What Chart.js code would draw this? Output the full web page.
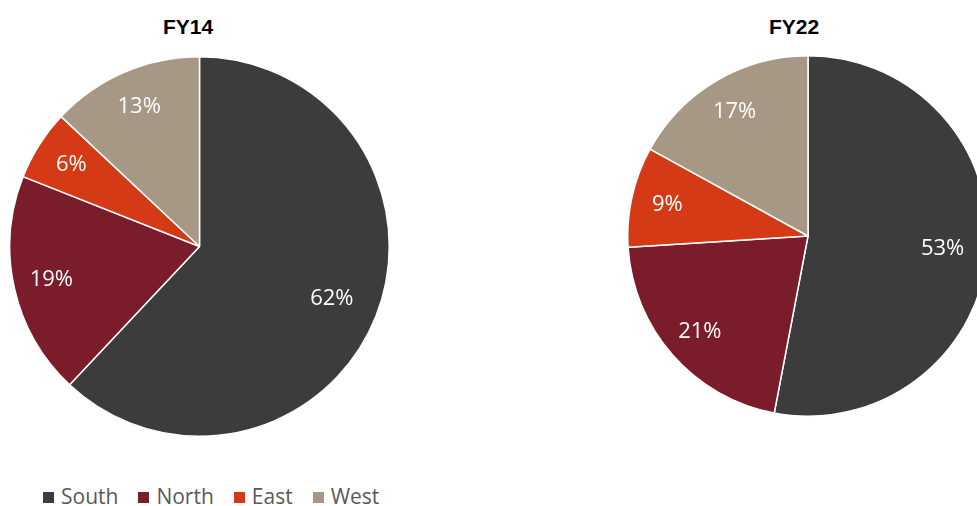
<!DOCTYPE html>
<html>
<head>
<meta charset="utf-8">
<script src="https://cdn.jsdelivr.net/npm/chart.js@4/dist/chart.umd.min.js"></script>
<style>
  html, body { margin: 0; padding: 0; width: 977px; height: 506px; overflow: hidden; background: #fff; }
  .box { position: absolute; }
  .title { position: absolute; font: bold 21px "Liberation Sans", Arial, sans-serif; color: #000; text-align: center; width: 200px; }
  #legend { position: absolute; left: 43px; top: 482px; font: 21px "Open Sans", sans-serif; color: #595959; white-space: nowrap; }
  #legend span.item { margin-right: 20px; }
  #legend span.sw { display: inline-block; width: 11px; height: 11px; margin-right: 7px; vertical-align: 1px; }
</style>
</head>
<body>
<div class="title" id="t1" style="left:88px; top:15px;"></div>
<div class="title" id="t2" style="left:694px; top:15px;"></div>
<div class="box" style="left:9px; top:56px; width:381px; height:381px;"><canvas id="pie1"></canvas></div>
<div class="box" style="left:627px; top:55px; width:362px; height:362px;"><canvas id="pie2"></canvas></div>
<div id="legend"></div>
<script>
// data
var regions = ["South", "North", "East", "West"];
var fy14 = [62, 19, 6, 13];
var fy22 = [53, 21, 9, 17];
var titles = ["FY14", "FY22"];
var colors = ["#3c3c3c", "#7a1c29", "#d53a16", "#a69885"];

document.getElementById("t1").textContent = titles[0];
document.getElementById("t2").textContent = titles[1];

// legend
var legend = document.getElementById("legend");
regions.forEach(function (name, i) {
    var item = document.createElement("span");
    item.className = "item";
    var sw = document.createElement("span");
    sw.className = "sw";
    sw.style.background = colors[i];
    item.appendChild(sw);
    item.appendChild(document.createTextNode(name));
    legend.appendChild(item);
});

// percent labels inside the slices
var pctLabels = {
    id: "pctLabels",
    afterDatasetsDraw: function (chart) {
        var ctx = chart.ctx;
        var meta = chart.getDatasetMeta(0);
        var vals = chart.data.datasets[0].data;
        ctx.save();
        ctx.fillStyle = "#ffffff";
        ctx.font = '22px "Open Sans", sans-serif';
        ctx.textAlign = "center";
        ctx.textBaseline = "middle";
        meta.data.forEach(function (arc, i) {
            var mid = (arc.startAngle + arc.endAngle) / 2;
            // the big slice sits a bit nearer the centre, like the original
            var r = arc.outerRadius * (vals[i] > 50 ? 0.75 : 0.8);
            ctx.fillText(vals[i] + "%", arc.x + Math.cos(mid) * r, arc.y + Math.sin(mid) * r);
        });
        ctx.restore();
    }
};

function makePie(id, values) {
    return new Chart(document.getElementById(id), {
        type: "pie",
        data: {
            labels: regions,
            datasets: [{
                data: values,
                backgroundColor: colors,
                borderColor: "#ffffff",
                borderWidth: 1.5
            }]
        },
        options: {
            responsive: true,
            maintainAspectRatio: false,
            animation: false,
            layout: { padding: 0 },
            plugins: {
                legend: { display: false },
                tooltip: { enabled: false }
            }
        },
        plugins: [pctLabels]
    });
}

makePie("pie1", fy14);
makePie("pie2", fy22);
</script>
</body>
</html>
